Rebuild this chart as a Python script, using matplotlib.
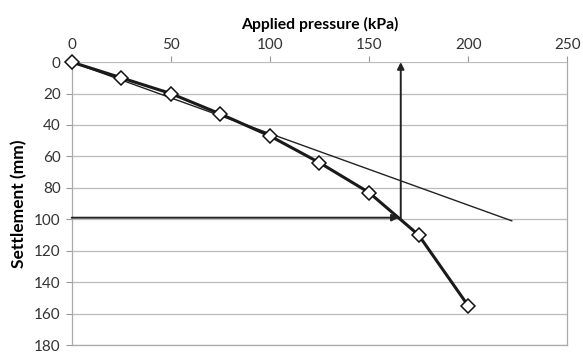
import matplotlib
matplotlib.use("Agg")
import matplotlib.pyplot as plt

pressure = [0, 25, 50, 75, 100, 125, 150, 175, 200]
settlement = [0, 10, 20, 33, 47, 64, 83, 110, 155]
tangent_x = [0, 222]
tangent_y = [0, 101]
failure_pressure = 166
failure_settlement = 99
x_ticks = [0, 50, 100, 150, 200, 250]
y_ticks = [0, 20, 40, 60, 80, 100, 120, 140, 160, 180]

plt.rcParams['font.family'] = ['Lato', 'DejaVu Sans']
fig = plt.figure(figsize=(5.83, 3.54), dpi=100)
ax = fig.add_axes([0.123, 0.0254, 0.85, 0.7992])

ax.set_xlim(0, 250)
ax.set_ylim(180, 0)
ax.xaxis.tick_top()
ax.xaxis.set_label_position('top')
ax.set_xticks(x_ticks)
ax.set_yticks(y_ticks)
ax.tick_params(axis='both', labelsize=11, colors='#999999', labelcolor='#333333', length=4, width=0.8)
ax.tick_params(axis='x', pad=3)
ax.tick_params(axis='y', pad=4)
ax.grid(axis='y', color='#bbbbbb', linewidth=0.9)
ax.set_axisbelow(True)
for s in ['left', 'right', 'bottom']:
    ax.spines[s].set_color('#aaaaaa')
    ax.spines[s].set_linewidth(0.9)
ax.spines['top'].set_visible(False)

ax.plot(tangent_x, tangent_y, color='#222222', linewidth=1.0, zorder=3)
ax.plot(pressure, settlement, color='#1a1a1a', linewidth=2.2, marker='D',
        markersize=7, markerfacecolor='white', markeredgecolor='#111111',
        markeredgewidth=1.1, zorder=4, clip_on=False)

ax.annotate('', xy=(failure_pressure - 1, failure_settlement), xytext=(0, failure_settlement),
            arrowprops=dict(arrowstyle='-|>', color='#222222', lw=1.4, mutation_scale=10,
                            shrinkA=0, shrinkB=0), zorder=5)
ax.annotate('', xy=(failure_pressure, 0), xytext=(failure_pressure, failure_settlement + 1),
            arrowprops=dict(arrowstyle='-|>', color='#222222', lw=1.4, mutation_scale=10,
                            shrinkA=0, shrinkB=0), zorder=5)

ax.set_xlabel('Applied pressure (kPa)', fontsize=11.3, fontweight='bold', labelpad=7)
ax.set_ylabel('Settlement (mm)', fontsize=12.5, fontweight='bold', labelpad=5)

fig.savefig('out.png', dpi=100)
